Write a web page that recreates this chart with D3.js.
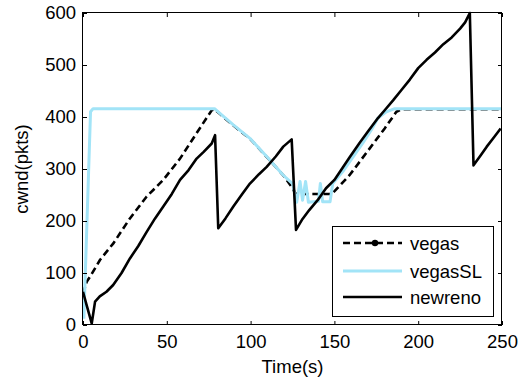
<!DOCTYPE html>
<html lang="en">
<head>
<meta charset="utf-8">
<script src="https://cdn.jsdelivr.net/npm/d3@7"></script>
<style type="text/css">
    body { margin: 0; background: #fff; }
    .axis line { stroke: black; }
    .axis path { display: none; }
    .axis text, .label, .legend text {
        font-family: "Liberation Sans", Arial, sans-serif;
        font-size: 18.5px;
        fill: black;
    }
</style>
</head>
<body>
<script>
// tick labels
const xTicks = [0, 50, 100, 150, 200, 250];
const yTicks = [0, 100, 200, 300, 400, 500, 600];

const seriesNames = ["vegas", "vegasSL", "newreno"];

// vegas (dashed black)
const vegasTime = [0, 2.2, 4, 7, 10.1, 18.1, 28, 38, 47.9, 57.9, 67.8, 76.8, 78.5,
    82, 90, 100, 110, 120, 124, 127, 148.5, 159, 170, 180, 187, 190, 250];
const vegasCwnd = [60, 83, 92, 108, 125, 157, 205, 247, 279, 320, 369, 413, 415,
    405, 383, 357, 322, 286, 268, 252, 252, 288, 335, 378, 410, 415, 415];

// vegasSL (light blue)
const vegasSLTime = [0.5, 4.5, 6, 78.5, 81.7, 89.7, 99.6, 109.6, 119.5, 125, 127.5, 129.5,
    131, 132.8, 134.5, 140.5, 141.6, 143, 147.4, 149, 155, 160, 167, 172, 176, 181, 186, 250];
const vegasSLCwnd = [12, 410, 416, 416, 407, 385, 359, 324, 288, 272, 236, 276,
    240, 276, 236, 238, 272, 237, 237, 272, 295, 318, 350, 375, 398, 410, 416, 416];

// newreno (solid black)
const newrenoTime = [0, 2, 5.2, 7.2, 10, 14, 18, 23, 28, 33, 38, 43, 47.9, 53, 57.9, 63, 67.8, 72, 76.8, 78.8,
    80.7, 85, 89.7, 95, 99.6, 105, 109.6, 115, 119.5, 124.5,
    127.1, 131, 135, 140, 145, 150, 154, 159, 165, 170, 176, 180, 185, 190, 195, 200, 205, 210, 215, 220, 225, 228, 230.8,
    233, 237, 240.9, 245, 249.2];
const newrenoCwnd = [64, 40, 3, 45, 55, 64, 77, 100, 128, 152, 179, 205, 228, 252, 279, 298, 320, 333, 349, 365,
    186, 205, 228, 252, 272, 290, 304, 324, 343, 357,
    183, 204, 221, 240, 263, 279, 298, 322, 350, 372, 398, 413, 432, 452, 472, 494, 510, 524, 540, 553, 570, 582, 600,
    307, 325, 343, 360, 378];

let w = 526;
let h = 381;
let padLeft = 83, padRight = 502, padTop = 13, padBottom = 325;

let svg = d3.select("body")
            .append("svg")
            .attr("width", w)
            .attr("height", h);

let xScale = d3.scaleLinear()
                .domain([0, 250])
                .range([padLeft, padRight]);

let yScale = d3.scaleLinear()
                .domain([0, 600])
                .range([padBottom, padTop]);

svg.append("defs")
    .append("clipPath")
    .attr("id", "plot-clip")
    .append("rect")
    .attr("x", padLeft)
    .attr("y", padTop - 2)
    .attr("width", padRight - padLeft)
    .attr("height", padBottom - padTop + 2);

let line = d3.line()
             .x((d) => { return xScale(d[0]); })
             .y((d) => { return yScale(d[1]); });

let plot = svg.append("g").attr("clip-path", "url(#plot-clip)");

// vegas
plot.append("path")
    .datum(d3.zip(vegasTime, vegasCwnd))
    .attr("d", line)
    .attr("fill", "none")
    .attr("stroke", "black")
    .attr("stroke-width", 2.6)
    .attr("stroke-dasharray", "7,4");

// vegasSL
plot.append("path")
    .datum(d3.zip(vegasSLTime, vegasSLCwnd))
    .attr("d", line)
    .attr("fill", "none")
    .attr("stroke", "#a2e4f7")
    .attr("stroke-width", 3)
    .attr("stroke-linejoin", "round");

// newreno
plot.append("path")
    .datum(d3.zip(newrenoTime, newrenoCwnd))
    .attr("d", line)
    .attr("fill", "none")
    .attr("stroke", "black")
    .attr("stroke-width", 2.6)
    .attr("stroke-linejoin", "round");

// axes, ticks inside on all four sides
let xAxis = d3.axisBottom(xScale).tickValues(xTicks).tickSizeInner(-4).tickSizeOuter(0).tickPadding(10);
let yAxis = d3.axisLeft(yScale).tickValues(yTicks).tickSizeInner(-4).tickSizeOuter(0).tickPadding(7);

svg.append("g")
    .attr("class", "axis")
    .attr("transform", "translate(0, " + padBottom + ")")
    .call(xAxis);

svg.append("g")
    .attr("class", "axis")
    .attr("transform", "translate(" + padLeft + ", 0)")
    .call(yAxis);

svg.append("g")
    .attr("class", "axis")
    .attr("transform", "translate(0, " + padTop + ")")
    .call(d3.axisTop(xScale).tickValues(xTicks).tickSizeInner(-4).tickSizeOuter(0).tickFormat(""));

svg.append("g")
    .attr("class", "axis")
    .attr("transform", "translate(" + padRight + ", 0)")
    .call(d3.axisRight(yScale).tickValues(yTicks).tickSizeInner(-4).tickSizeOuter(0).tickFormat(""));

svg.append("rect")
    .attr("x", padLeft - 0.5)
    .attr("y", padTop - 0.5)
    .attr("width", padRight - padLeft)
    .attr("height", padBottom - padTop)
    .attr("fill", "none")
    .attr("stroke", "black")
    .attr("stroke-width", 1);

// axis labels
svg.append("text")
    .attr("class", "label")
    .attr("x", (padLeft + padRight) / 2)
    .attr("y", 373)
    .attr("text-anchor", "middle")
    .text("Time(s)");

svg.append("text")
    .attr("class", "label")
    .attr("transform", "translate(28, " + ((padTop + padBottom) / 2) + ") rotate(-90)")
    .attr("text-anchor", "middle")
    .text("cwnd(pkts)");

// legend
let legend = svg.append("g").attr("class", "legend");

legend.append("rect")
    .attr("x", 332.5)
    .attr("y", 226.5)
    .attr("width", 161)
    .attr("height", 90)
    .attr("fill", "white")
    .attr("stroke", "black")
    .attr("stroke-width", 1);

let legendY = [243, 271, 297];
let legendStroke = ["black", "#a2e4f7", "black"];
let legendDash = ["7,4", null, null];

seriesNames.forEach((name, i) => {
    legend.append("line")
        .attr("x1", 343)
        .attr("x2", 402)
        .attr("y1", legendY[i])
        .attr("y2", legendY[i])
        .attr("stroke", legendStroke[i])
        .attr("stroke-width", i === 1 ? 3 : 2.6)
        .attr("stroke-dasharray", legendDash[i]);

    legend.append("text")
        .attr("x", 410)
        .attr("y", legendY[i] + 7)
        .text(name);
});

legend.append("circle")
    .attr("cx", 375)
    .attr("cy", legendY[0])
    .attr("r", 3.2)
    .attr("fill", "black");
</script>
</body>
</html>
